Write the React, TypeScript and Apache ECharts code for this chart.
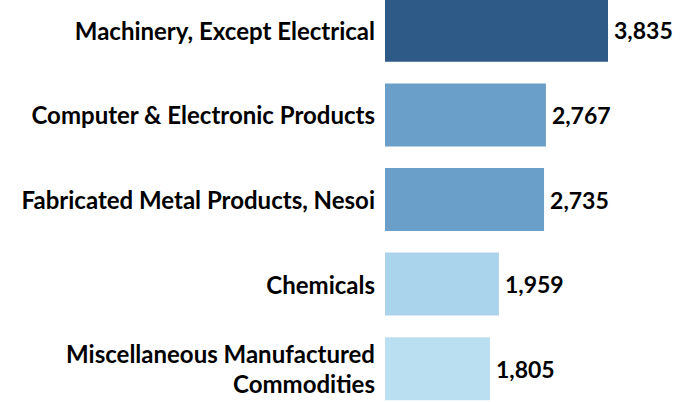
import React, { useEffect, useRef } from "react";
import * as echarts from "echarts";

const categories = [
  "Machinery, Except Electrical",
  "Computer & Electronic Products",
  "Fabricated Metal Products, Nesoi",
  "Chemicals",
  "Miscellaneous Manufactured\nCommodities",
];
const values = [3835, 2767, 2735, 1959, 1805];
const barColors = ["#2E5A87", "#6A9FC9", "#6A9FC9", "#AAD3EC", "#B9DFF1"];

export default function App() {
  const ref = useRef<HTMLDivElement>(null);
  useEffect(() => {
    if (!ref.current) return;
    const chart = echarts.init(ref.current, undefined, { renderer: "svg" });
    const font = "Lato, 'Liberation Sans', sans-serif";
    chart.setOption({
      animation: false,
      backgroundColor: "#ffffff",
      grid: { left: 385, top: 0, width: 290.75, height: 423 },
      xAxis: {
        type: "value",
        min: 0,
        max: 5000,
        show: false,
      },
      yAxis: {
        type: "category",
        data: categories,
        inverse: true,
        axisLine: { show: false },
        axisTick: { show: false },
        splitLine: { show: false },
        axisLabel: {
          margin: 10,
          color: "#000000",
          fontFamily: font,
          fontWeight: "bold",
          fontSize: 24,
          lineHeight: 30,
          align: "right",
        },
      },
      series: [
        {
          type: "bar",
          barWidth: 63,
          data: values.map((v, i) => ({ value: v, itemStyle: { color: barColors[i] } })),
          label: {
            show: true,
            position: "right",
            distance: 6,
            color: "#000000",
            fontFamily: font,
            fontWeight: "bold",
            fontSize: 23,
            formatter: (p: any) => Number(p.value).toLocaleString("en-US"),
          },
        },
      ],
    });
    return () => chart.dispose();
  }, []);
  return (
    <div
      ref={ref}
      style={{ position: "absolute", left: 0, top: -12, width: 688, height: 426 }}
    />
  );
}
